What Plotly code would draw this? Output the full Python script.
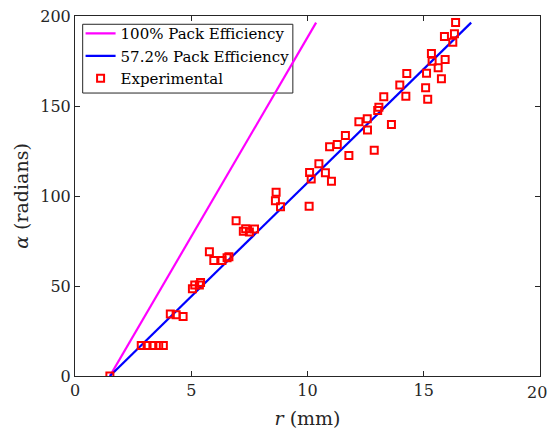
import plotly.graph_objects as go

# Theory lines (endpoints)
r_full = [1.5, 10.37]
a_full = [0, 196.3]
r_pack = [1.5, 17.04]
a_pack = [0, 196.3]

# Experimental data
r_exp = [1.5,
         2.85, 3.1, 3.35, 3.6, 3.8,
         4.1, 4.35, 4.65,
         5.05, 5.15, 5.35, 5.4,
         5.78, 5.97, 6.32, 6.54, 6.62,
         6.93,
         7.24, 7.34, 7.5, 7.72,
         8.62, 8.65, 8.84,
         10.07, 10.09, 10.16,
         10.49, 10.77, 10.95, 11.03,
         11.28, 11.63, 11.78,
         12.21, 12.57, 12.58, 12.87,
         13.02, 13.07, 13.28, 13.61,
         13.97, 14.23, 14.27,
         15.08, 15.12, 15.17, 15.33, 15.36,
         15.62, 15.76, 15.89, 15.92,
         16.25, 16.32, 16.37]
a_exp = [0,
         17, 17, 17, 17, 17,
         34.5, 34, 33,
         48.5, 50.5, 50.5, 52,
         69, 64.2, 64.2, 65.7, 66.2,
         86.2,
         80.4, 81.8, 80, 81.6,
         97.3, 102.1, 94,
         94.3, 113, 109.5,
         117.9, 112.9, 127.3, 108.2,
         128.6, 133.6, 122.5,
         141.2, 142.9, 136.6, 125.4,
         147.5, 149.3, 155.2, 139.7,
         161.6, 155.4, 168,
         160.1, 168.2, 153.8, 179.2, 174.9,
         171.2, 165.2, 188.6, 175.8,
         185.4, 190.2, 196.4]

x_ticks = [0, 5, 10, 15, 20]
y_ticks = [0, 50, 100, 150, 200]

FONT = "DejaVu Serif"
AX = "#262626"

fig = go.Figure()
fig.add_trace(go.Scatter(x=r_full, y=a_full, mode="lines",
                         line=dict(color="#FF00FF", width=2.2),
                         name="100% Pack Efficiency"))
fig.add_trace(go.Scatter(x=r_pack, y=a_pack, mode="lines",
                         line=dict(color="#0000FF", width=2.2),
                         name="57.2% Pack Efficiency"))
fig.add_trace(go.Scatter(x=r_exp, y=a_exp, mode="markers",
                         marker=dict(symbol="square-open", size=7,
                                     color="#FF0000", line=dict(width=2, color="#FF0000")),
                         name="Experimental"))

axis_common = dict(showline=True, linecolor=AX, linewidth=1, mirror="ticks",
                   ticks="inside", ticklen=5, tickcolor=AX, tickwidth=1,
                   showgrid=False, zeroline=False, automargin=False,
                   tickfont=dict(family=FONT, size=16, color=AX))

fig.update_xaxes(range=[0, 20], tickvals=x_ticks,
                 ticktext=[str(v) for v in x_ticks[:-1]] + [""],
                 title=dict(text="<i>r</i> (mm)", font=dict(family=FONT, size=19, color=AX),
                            standoff=12),
                 **axis_common)
fig.update_yaxes(range=[0, 200], tickvals=y_ticks, ticktext=[str(v) for v in y_ticks],
                 title=dict(text="<i>α</i> (radians)", font=dict(family=FONT, size=19, color=AX),
                            standoff=6),
                 **axis_common)
# label of the last x tick, nudged so it stays inside the page
fig.add_annotation(x=x_ticks[-1], xref="x", y=0, yref="paper", yanchor="top",
                   yshift=-5, xshift=-3, text=str(x_ticks[-1]), showarrow=False,
                   font=dict(family=FONT, size=16, color=AX))

# legend frame
fig.add_shape(type="rect", xref="paper", yref="paper",
              x0=0.0165, x1=0.4685, y0=0.786, y1=0.977,
              line=dict(color=AX, width=1), fillcolor="white", layer="below")

fig.update_layout(
    width=548, height=435,
    margin=dict(l=75, r=8, t=16, b=59),
    plot_bgcolor="white", paper_bgcolor="white",
    showlegend=True,
    legend=dict(x=0.012, y=0.997, xanchor="left", yanchor="top",
                bgcolor="rgba(0,0,0,0)", borderwidth=0,
                font=dict(family=FONT, size=15, color="black"),
                tracegroupgap=0, itemwidth=30),
)

fig.write_html("out.html")
